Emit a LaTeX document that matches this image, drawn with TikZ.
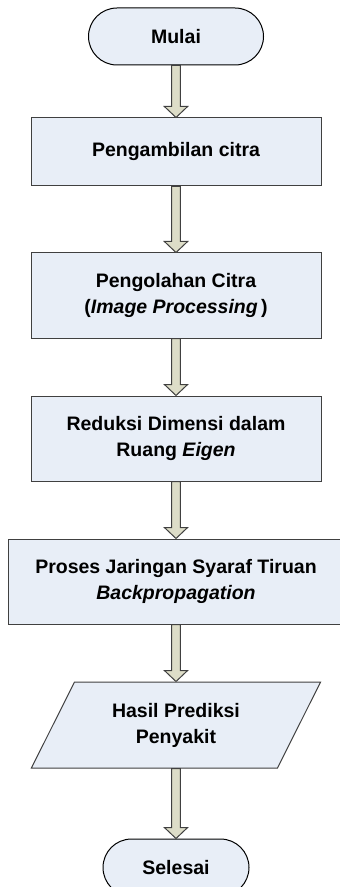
\documentclass[tikz,border=0pt]{standalone}
\usepackage{fontspec}
\setmainfont{Liberation Sans}
\usetikzlibrary{positioning,shapes.geometric,calc}
\definecolor{boxfill}{HTML}{E8EEF7}
\definecolor{boxline}{HTML}{404040}
\definecolor{arrowfill}{HTML}{DDDDC8}
\newcommand{\flowlink}[2]{%
  \draw[link] ($(#1.south)+(-2.2pt,0)$) -- ($(#2.north)+(-2.2pt,5.5pt)$) -- ++(-3.6pt,0) -- (#2.north)
    -- ++(5.8pt,5.5pt) -- ++(-3.6pt,0) -- ($(#1.south)+(2.2pt,0)$) -- cycle;}

\begin{document}
\begin{tikzpicture}[font=\fontsize{9.75}{13}\selectfont\bfseries,node distance=28.5pt]
  \tikzset{terminal/.style={draw=black,line width=0.5pt,fill=boxfill,rounded corners=14.25pt,minimum width=87.5pt,minimum height=28.5pt,align=center},
    process/.style={draw=boxline,line width=0.5pt,fill=boxfill,minimum width=145pt,minimum height=42.5pt,align=center},
    io/.style={trapezium,trapezium left angle=63.4,trapezium right angle=116.6,draw=boxline,line width=0.5pt,fill=boxfill,minimum width=134pt,minimum height=43pt,inner xsep=2pt,align=center},
    link/.style={draw=boxline,line width=0.5pt,fill=arrowfill}}
  \useasboundingbox (0,0) rectangle (169.5pt,-443.5pt);
  \node[terminal] (mulai) at (88pt,-18.25pt) {Mulai};
  \node[process,minimum height=34pt,below=26pt of mulai] (ambil) {Pengambilan citra};
  \node[process,below=33pt of ambil] (olah) {Pengolahan Citra\\(\textit{Image Processing}\,)};
  \node[process,below=of olah] (reduksi) {Reduksi Dimensi dalam\\Ruang \textit{Eigen}};
  \node[process,minimum width=168pt,below=of reduksi] (jst) {Proses Jaringan Syaraf Tiruan\\\textit{Backpropagation}};
  \node[io,below=of jst] (hasil) {Hasil Prediksi\\Penyakit};
  \node[terminal,minimum width=73pt,below=35pt of hasil] (selesai) {Selesai};
  \flowlink{mulai}{ambil}
  \flowlink{ambil}{olah}
  \flowlink{olah}{reduksi}
  \flowlink{reduksi}{jst}
  \flowlink{jst}{hasil}
  \flowlink{hasil}{selesai}
\end{tikzpicture}
\end{document}
